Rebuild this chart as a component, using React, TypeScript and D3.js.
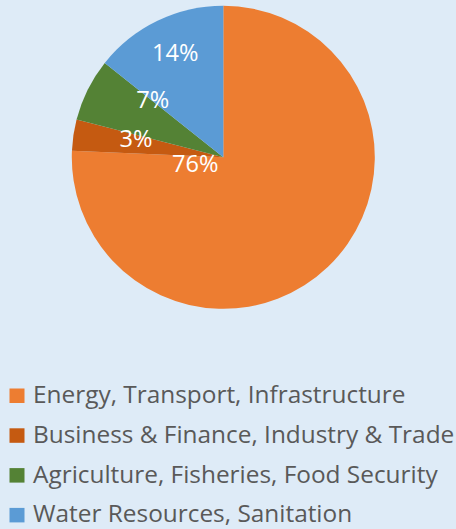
import React from "react";
import * as d3 from "d3";

const categories = [
  "Energy, Transport, Infrastructure",
  "Business & Finance, Industry & Trade",
  "Agriculture, Fisheries, Food Security",
  "Water Resources, Sanitation",
];
const values = [75.7, 3.3, 6.7, 14.3];
const labels = ["76%", "3%", "7%", "14%"];
const colors = ["#ED7D31", "#C55A11", "#548235", "#5B9BD5"];

// label placement tweaks (fraction of radius, angle shift in degrees)
const labelRadiusFrac = [0.19, 0.59, 0.6, 0.76];
const labelAngleShift = [120.4, 3.7, 12.7, 1.1];

const W = 456;
const H = 529;
const cx = 223.3;
const cy = 157.3;
const R = 151.5;
const FONT = "'Open Sans', sans-serif";

export default function App() {
  const pie = d3.pie<number>().sort(null).value((d) => d)(values);
  const arc = d3.arc<d3.PieArcDatum<number>>().innerRadius(0).outerRadius(R);

  return (
    <svg
      width={W}
      height={H}
      style={{ position: "absolute", left: 0, top: 0, display: "block" }}
    >
      <rect x={0} y={0} width={W} height={H} fill="#DEEBF7" />
      <g transform={`translate(${cx},${cy})`}>
        {pie.map((p, i) => (
          <path key={i} d={arc(p) || ""} fill={colors[i]} />
        ))}
        {pie.map((p, i) => {
          const a = (p.startAngle + p.endAngle) / 2 + (labelAngleShift[i] * Math.PI) / 180;
          const r = labelRadiusFrac[i] * R;
          const x = Math.sin(a) * r;
          const y = -Math.cos(a) * r;
          return (
            <text
              key={i}
              x={x}
              y={y}
              dy="0.35em"
              textAnchor="middle"
              fill="#FFFFFF"
              fontFamily={FONT}
              fontSize={23.6}
            >
              {labels[i]}
            </text>
          );
        })}
      </g>
      <g>
        {categories.map((c, i) => (
          <g key={i} transform={`translate(0,${403 + i * 39.8})`}>
            <rect x={9.5} y={-14.5} width={15} height={14.5} fill={colors[i]} />
            <text x={33} y={0} fill="#595959" fontFamily={FONT} fontSize={24.4}>
              {c}
            </text>
          </g>
        ))}
      </g>
    </svg>
  );
}
